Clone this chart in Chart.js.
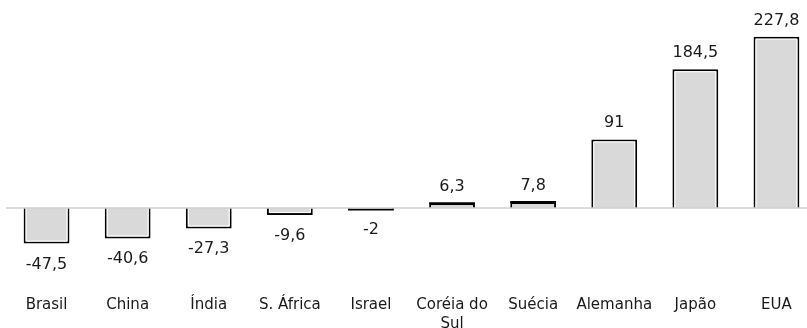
<!DOCTYPE html>
<html>
<head>
<meta charset="utf-8">
<script src="https://cdn.jsdelivr.net/npm/chart.js@4.4.1/dist/chart.umd.min.js"></script>
<style>
  html, body { margin: 0; padding: 0; background: #ffffff; }
  #wrap { width: 807px; height: 328px; overflow: hidden; position: relative; }
  #c { display: block; }
</style>
</head>
<body>
<div id="wrap"><canvas id="c" width="823" height="344"></canvas></div>
<script>
// Saldo por país
const categories = ['Brasil', 'China', 'Índia', 'S. África', 'Israel', ['Coréia do', 'Sul'], 'Suécia', 'Alemanha', 'Japão', 'EUA'];
const values = [-47.5, -40.6, -27.3, -9.6, -2, 6.3, 7.8, 91, 184.5, 227.8];

const FONT = '"DejaVu Sans", Verdana, sans-serif';

function fmt(v) {
  return String(v).replace('.', ',');
}

// white inner edge inside every bar outline; very short bars get a solid outer edge
const innerEdge = {
  id: 'innerEdge',
  afterDatasetsDraw(chart) {
    const ctx = chart.ctx;
    const meta = chart.getDatasetMeta(0);
    ctx.save();
    meta.data.forEach((bar) => {
      const p = bar.getProps(['x', 'y', 'base', 'width'], true);
      const top = Math.min(p.y, p.base);
      const bottom = Math.max(p.y, p.base);
      const l = p.x - p.width / 2 + 2.5;
      const r = p.x + p.width / 2 - 2.5;
      if (bottom - top < 6) {
        ctx.strokeStyle = '#000000';
        ctx.lineWidth = 2;
        ctx.beginPath();
        ctx.moveTo(p.x - p.width / 2, p.y);
        ctx.lineTo(p.x + p.width / 2, p.y);
        ctx.stroke();
        return;
      }
      ctx.strokeStyle = '#ffffff';
      ctx.lineWidth = 1;
      ctx.beginPath();
      if (p.y < p.base) {
        ctx.moveTo(l, bottom);
        ctx.lineTo(l, top + 2.5);
        ctx.lineTo(r, top + 2.5);
        ctx.lineTo(r, bottom);
      } else {
        ctx.moveTo(l, top);
        ctx.lineTo(l, bottom - 2.5);
        ctx.lineTo(r, bottom - 2.5);
        ctx.lineTo(r, top);
      }
      ctx.stroke();
    });
    ctx.restore();
  }
};

// zero baseline and value labels
const zeroAndLabels = {
  id: 'zeroAndLabels',
  afterDatasetsDraw(chart) {
    const ctx = chart.ctx;
    const y0 = chart.scales.y.getPixelForValue(0);
    ctx.save();
    ctx.strokeStyle = '#d0d0d0';
    ctx.lineWidth = 1.5;
    ctx.beginPath();
    ctx.moveTo(chart.chartArea.left, y0);
    ctx.lineTo(chart.width, y0);
    ctx.stroke();

    const meta = chart.getDatasetMeta(0);
    ctx.font = '16px ' + FONT;
    ctx.fillStyle = '#1a1a1a';
    ctx.textAlign = 'center';
    ctx.textBaseline = 'alphabetic';
    meta.data.forEach((bar, i) => {
      const v = values[i];
      const p = bar.getProps(['x', 'y', 'base'], true);
      if (v >= 0) {
        ctx.fillText(fmt(v), p.x, p.y - 12);
      } else {
        ctx.fillText(fmt(v), p.x, p.y + 25);
      }
    });
    ctx.restore();
  }
};

new Chart(document.getElementById('c'), {
  type: 'bar',
  data: {
    labels: categories,
    datasets: [{
      data: values,
      backgroundColor: '#d9d9d9',
      borderColor: '#000000',
      borderWidth: 2,
      categoryPercentage: 1,
      barPercentage: 0.565
    }]
  },
  options: {
    responsive: false,
    animation: false,
    layout: { padding: { left: 6, right: 6, top: 20, bottom: 0 } },
    plugins: {
      legend: { display: false },
      tooltip: { enabled: false }
    },
    scales: {
      x: {
        grid: { display: false, drawTicks: false },
        border: { display: false },
        ticks: {
          color: '#1a1a1a',
          padding: 10,
          maxRotation: 0,
          autoSkip: false,
          font: { family: FONT, size: 15, lineHeight: 1.29 }
        }
      },
      y: {
        display: false,
        min: -103,
        max: 250
      }
    }
  },
  plugins: [innerEdge, zeroAndLabels]
});
</script>
</body>
</html>
